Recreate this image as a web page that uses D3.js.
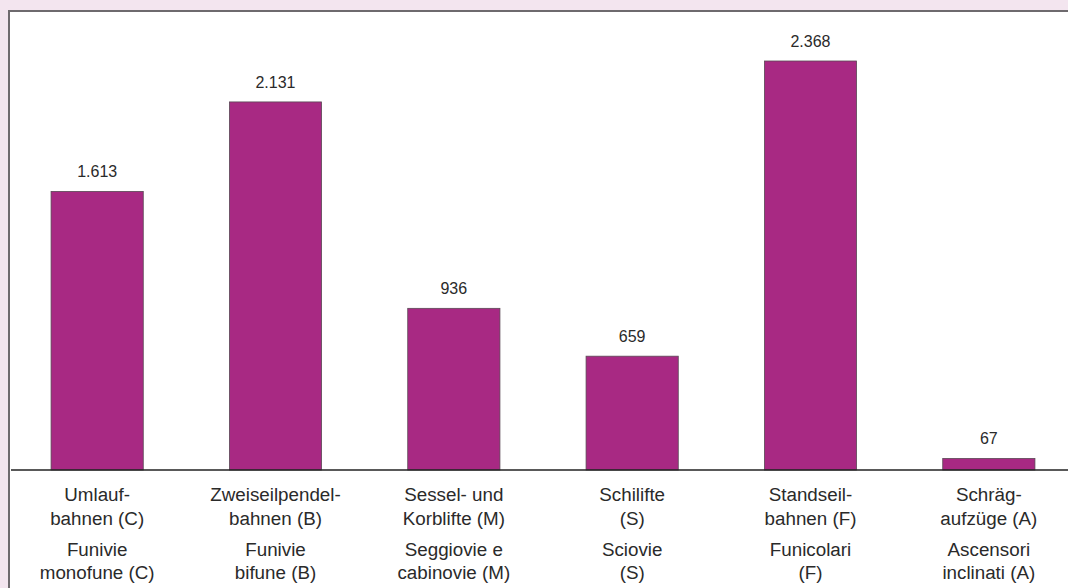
<!DOCTYPE html>
<html>
<head>
<meta charset="utf-8">
<script src="https://cdn.jsdelivr.net/npm/d3@7/dist/d3.min.js"></script>
<style>
  html, body { margin: 0; padding: 0; background: #f3e5ef; }
  svg { display: block; font-family: "Liberation Sans", Arial, sans-serif; }
</style>
</head>
<body>
<div class="chart-container"></div>
<script>
var width = 1068;
var height = 588;

// Data
var labelsDe = [['Umlauf-', 'bahnen (C)'], ['Zweiseilpendel-', 'bahnen (B)'], ['Sessel- und', 'Korblifte (M)'],
                ['Schilifte', '(S)'], ['Standseil-', 'bahnen (F)'], ['Schräg-', 'aufzüge (A)']];
var labelsIt = [['Funivie', 'monofune (C)'], ['Funivie', 'bifune (B)'], ['Seggiovie e', 'cabinovie (M)'],
                ['Sciovie', '(S)'], ['Funicolari', '(F)'], ['Ascensori', 'inclinati (A)']];
var values = [1613, 2131, 936, 659, 2368, 67];
var valueLabels = ['1.613', '2.131', '936', '659', '2.368', '67'];

var svg = d3.select('.chart-container')
    .append('svg')
    .attr('width', width)
    .attr('height', height);

// White panel with grey border on top and left
svg.append('rect')
    .attr('x', 8).attr('y', 10)
    .attr('width', width - 8).attr('height', height - 10)
    .style('fill', '#ffffff');
svg.append('path')
    .attr('d', 'M9,' + height + 'V11H' + width)
    .style('fill', 'none')
    .style('stroke', '#6e6a6e')
    .style('stroke-width', 2);

var baseline = 470;
var idx = d3.range(values.length);

var xScale = d3.scaleBand()
    .domain(idx)
    .range([8, 1078])
    .paddingInner(0.483)
    .paddingOuter(0.2415);

var yScale = d3.scaleLinear()
    .domain([0, 2368])
    .range([baseline, 61]);

// Bars
svg.selectAll('rect.bar')
    .data(values)
    .enter()
    .append('rect')
    .attr('class', 'bar')
    .attr('x', function (d, i) { return xScale(i); })
    .attr('y', function (d) { return yScale(d); })
    .attr('width', xScale.bandwidth())
    .attr('height', function (d) { return baseline - yScale(d); })
    .style('fill', '#a82983')
    .style('stroke', '#5a4a56')
    .style('stroke-width', 0.8);

// Baseline
svg.append('line')
    .attr('x1', 11).attr('x2', width)
    .attr('y1', baseline).attr('y2', baseline)
    .style('stroke', '#222')
    .style('stroke-width', 1.5);

// Value labels
svg.selectAll('text.value')
    .data(values)
    .enter()
    .append('text')
    .attr('class', 'value')
    .attr('x', function (d, i) { return xScale(i) + xScale.bandwidth() / 2; })
    .attr('y', function (d) { return yScale(d) - 14; })
    .attr('text-anchor', 'middle')
    .style('font-size', '16px')
    .style('fill', '#2a2a2a')
    .text(function (d, i) { return valueLabels[i]; });

// Category labels (German then Italian)
var lineYs = [501, 525, 556, 579];
idx.forEach(function (i) {
    var cx = xScale(i) + xScale.bandwidth() / 2;
    var lines = labelsDe[i].concat(labelsIt[i]);
    lines.forEach(function (t, j) {
        svg.append('text')
            .attr('x', cx)
            .attr('y', lineYs[j])
            .attr('text-anchor', 'middle')
            .style('font-size', '18.8px')
            .style('fill', '#2a2a2a')
            .text(t);
    });
});
</script>
</body>
</html>
